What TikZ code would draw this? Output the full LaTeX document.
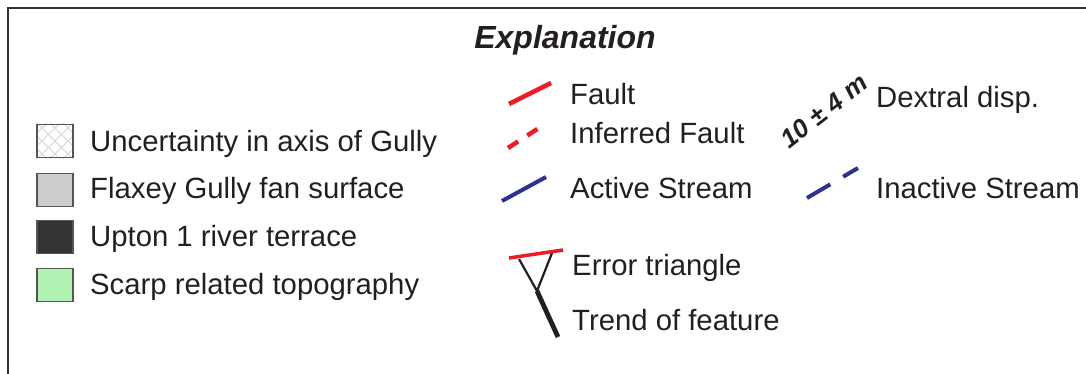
\documentclass[tikz,border=0pt]{standalone}
\usepackage{fontspec}
\setmainfont{Liberation Sans}
\definecolor{txt}{HTML}{231F20}
\definecolor{fred}{HTML}{ED1C24}
\definecolor{sblue}{HTML}{2E3192}
\definecolor{fgray}{HTML}{CCCCCC}
\definecolor{fdark}{HTML}{333333}
\definecolor{fgreen}{HTML}{B0F2B2}
\definecolor{bord}{HTML}{555555}
\definecolor{hatch}{HTML}{D4D4D4}
\begin{document}
\begin{tikzpicture}[x=1pt,y=-1pt,
  lbl/.style={anchor=base west,inner sep=0pt,text=txt,font=\fontsize{29.3}{31}\selectfont},
  legbox/.style={draw=bord,line width=1.6pt,minimum width=36pt,minimum height=33pt,inner sep=0pt},
  faultline/.style={draw=fred,line width=4.5pt},
  streamline/.style={draw=sblue,line width=4pt},
  frameline/.style={draw=fdark,line width=1.8pt}]
\useasboundingbox (0,0) rectangle (1086,374);
% frame
\coordinate (fbl) at (8,380);
\coordinate (ftl) at (8,8);
\coordinate (ftr) at (1092,8);
\draw[frameline] (fbl) -- (ftl) -- (ftr);
% title
\node[anchor=base,inner sep=0pt,text=txt,font=\fontsize{32}{34}\selectfont\bfseries\itshape] (title) at (565,49) {Explanation};
% left legend boxes
\node[legbox] (b1) at (55,141) {};
\begin{scope}
  \clip (b1.south west) rectangle (b1.north east);
  \foreach \k in {-3,...,3} {
    \draw[hatch,line width=0.8pt] ([xshift=\k*13pt]b1.center) ++(-30,-30) -- ++(60,60);
    \draw[hatch,line width=0.8pt] ([xshift=\k*13pt]b1.center) ++(-30,30) -- ++(60,-60);
  }
\end{scope}
\node[legbox] at (b1) {};
\node[legbox,fill=fgray] (b2) at (55,190) {};
\node[legbox,fill=fdark] (b3) at (55,237) {};
\node[legbox,fill=fgreen] (b4) at (55,285) {};
\node[lbl] (t1) at (90,152) {Uncertainty in axis of Gully};
\node[lbl] (t2) at (90,199) {Flaxey Gully fan surface};
\node[lbl] (t3) at (90,246) {Upton 1 river terrace};
\node[lbl] (t4) at (90,294) {Scarp related topography};
% middle column
\coordinate (fa1) at (509,104);
\coordinate (fa2) at (551,83);
\draw[faultline] (fa1) -- (fa2);
\node[lbl] (tf) at (570,105) {Fault};
\coordinate (if1) at (508,148);
\coordinate (if2) at (542,126);
\draw[faultline,dash pattern=on 12pt off 11pt] (if1) -- (if2);
\node[lbl] (tif) at (570,144) {Inferred Fault};
\coordinate (as1) at (502,201);
\coordinate (as2) at (546,177);
\draw[streamline] (as1) -- (as2);
\node[lbl] (tas) at (570,198) {Active Stream};
% error triangle
\coordinate (et1) at (509,258);
\coordinate (et2) at (563,250);
\coordinate (ea) at (519,259);
\coordinate (eb) at (552,253);
\coordinate (ev) at (537,291);
\coordinate (ee) at (558,337);
\draw[txt,line width=2.2pt] (ea) -- (ev) -- (eb);
\draw[txt,line width=4.8pt] (ev) -- (ee);
\draw[fred,line width=3.5pt] (et1) -- (et2);
\node[lbl] (tet) at (572,275) {Error triangle};
\node[lbl] (ttf) at (572,330) {Trend of feature};
% right column
\node[inner sep=0pt,text=txt,rotate=38,font=\fontsize{26}{28}\selectfont\bfseries\itshape] (disp) at (824,111) {10 ± 4 m};
\node[lbl] (tdx) at (876,108) {Dextral disp.};
\coordinate (is1) at (807,198);
\coordinate (is2) at (858,168);
\draw[streamline,dash pattern=on 27pt off 15pt] (is1) -- (is2);
\node[lbl] (tis) at (876,198) {Inactive Stream};
\end{tikzpicture}
\end{document}
